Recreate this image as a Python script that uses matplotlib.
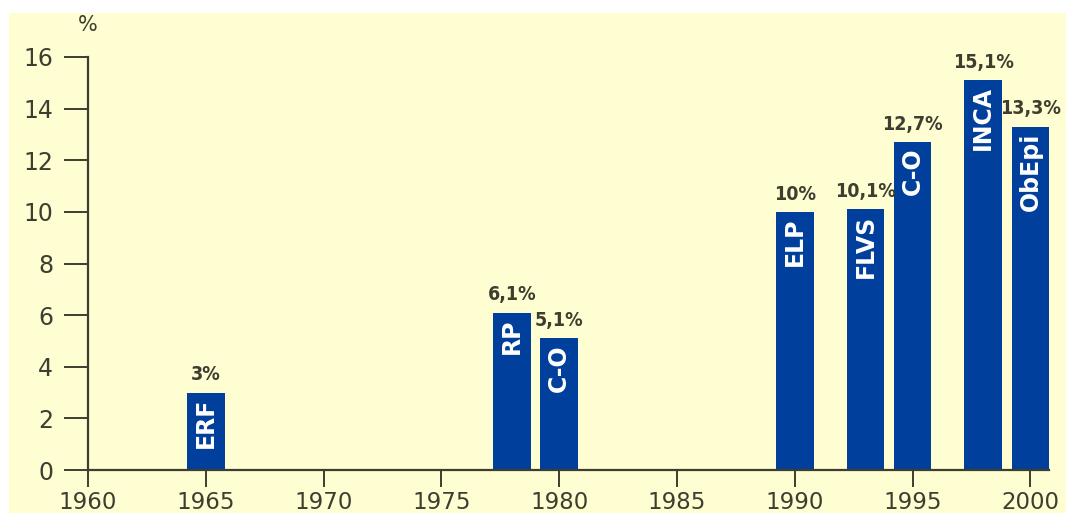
import matplotlib
matplotlib.use("Agg")
import matplotlib.pyplot as plt
from matplotlib.patches import Rectangle

# survey data (prevalence of obesity, %)
years = [1965, 1978, 1980, 1990, 1993, 1995, 1998, 2000]
values = [3, 6.1, 5.1, 10, 10.1, 12.7, 15.1, 13.3]
surveys = ['ERF', 'RP', 'C-O', 'ELP', 'FLVS', 'C-O', 'INCA', 'ObEpi']
x_ticks = [1960, 1965, 1970, 1975, 1980, 1985, 1990, 1995, 2000]
y_ticks = [0, 2, 4, 6, 8, 10, 12, 14, 16]

bg = '#FFFDD2'
bar_col = '#003F9C'
ink = '#3E3E30'

W, H = 1066, 513
fig = plt.figure(figsize=(W / 100, H / 100), dpi=100, facecolor='white')
# yellow panel, white strip on top and left (drawn behind the axes)
fig.patches.append(Rectangle((9 / W, 0), 1 - 9 / W, 1 - 13 / H,
                             transform=fig.transFigure, facecolor=bg,
                             edgecolor='none', zorder=-10))

px_per_year = 23.56
x0, x1 = 1960, 2000.8
ax = fig.add_axes([88 / W, (H - 470) / H, (x1 - x0) * px_per_year / W, 413 / H])
ax.set_facecolor('none')
ax.set_zorder(5)

ax.bar(years, values, width=1.6, color=bar_col, zorder=2)

for x, v, s in zip(years, values, surveys):
    lab = f"{v:g}".replace('.', ',') + '%'
    ax.annotate(lab, (x, v), xytext=(0, 6), textcoords='offset points',
                ha='center', va='bottom', fontsize=14, color=ink,
                family='DejaVu Sans', stretch='condensed', weight='bold')
    ax.annotate(s, (x, v), xytext=(0, -4), textcoords='offset points',
                ha='center', va='top', rotation=90, fontsize=17,
                fontweight='bold', color='white')

ax.annotate('%', (1960, 16), xytext=(0, 16), textcoords='offset points',
            ha='center', va='bottom', fontsize=15, color=ink,
            annotation_clip=False)

ax.set_xlim(x0, x1)
ax.set_ylim(0, 16)
ax.set_xticks(x_ticks)
ax.set_yticks(y_ticks)

for side in ['top', 'right']:
    ax.spines[side].set_visible(False)
for side in ['left', 'bottom']:
    ax.spines[side].set_color(ink)
    ax.spines[side].set_linewidth(1.6)

ax.tick_params(axis='y', length=17, width=1.4, color=ink, labelcolor=ink,
               labelsize=17, pad=8)
ax.tick_params(axis='x', length=12, width=1.4, color=ink, labelcolor=ink,
               labelsize=16.5, pad=3)

fig.savefig('out.png', dpi=100, facecolor='white')
